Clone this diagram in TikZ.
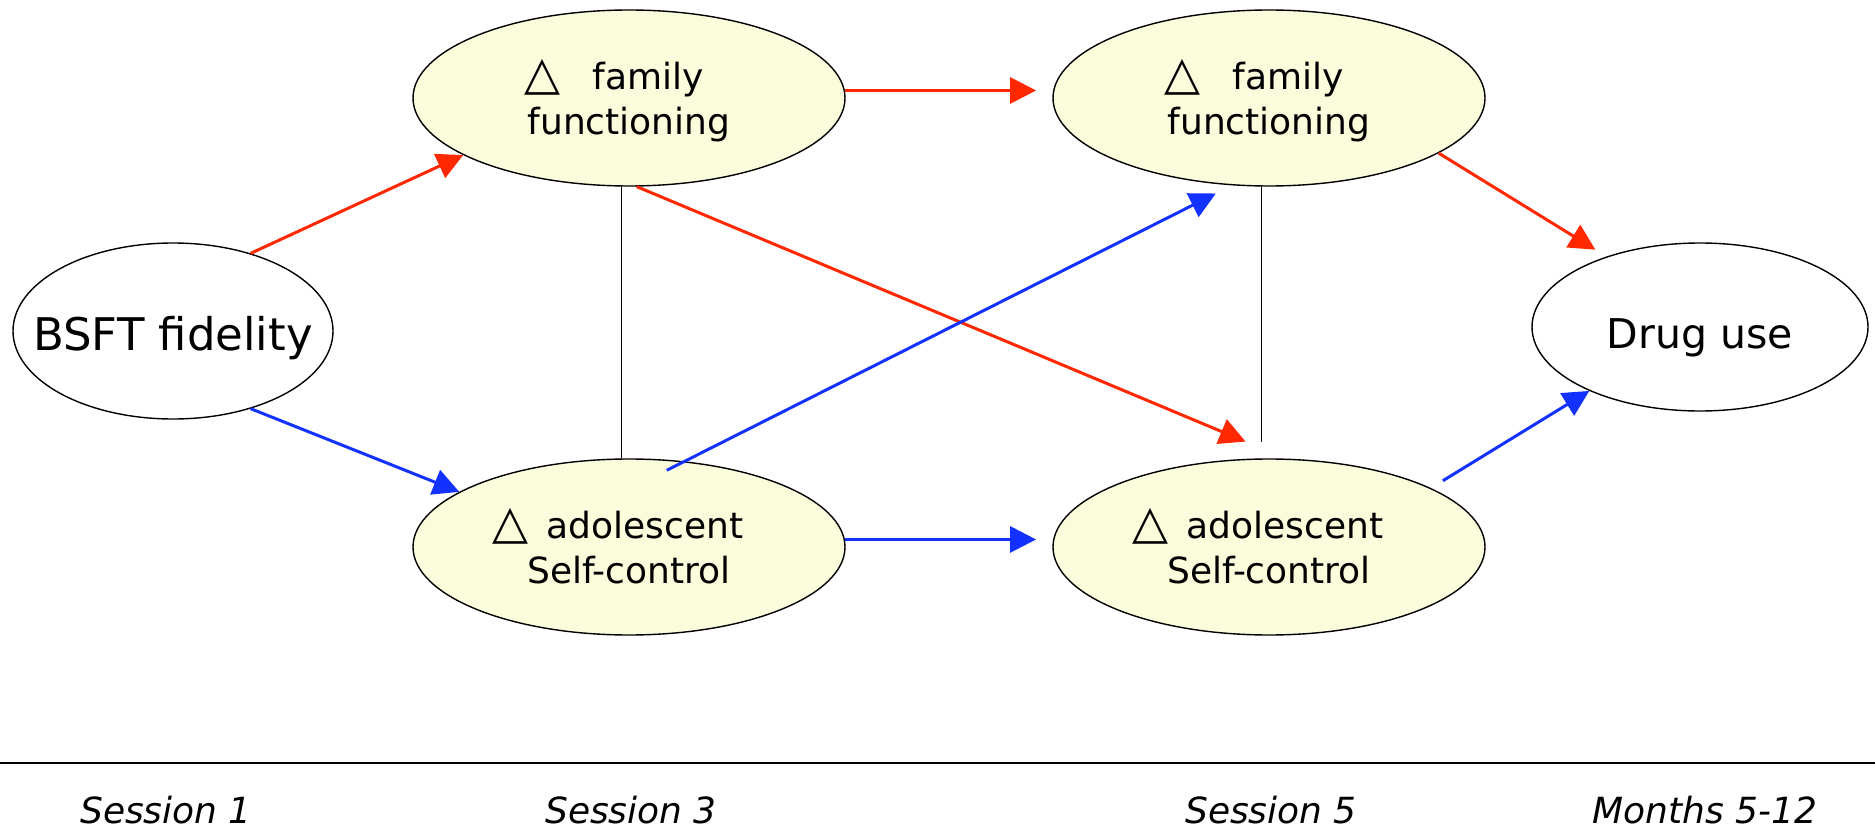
\documentclass[tikz,border=0pt]{standalone}
\usepackage{fontspec}
\setmainfont{DejaVu Sans}
\usetikzlibrary{shapes.geometric,arrows.meta}
\definecolor{arrred}{RGB}{255,40,0}
\definecolor{arrblue}{RGB}{20,50,255}
\definecolor{ovalfill}{RGB}{250,252,220}
\newcommand{\chg}{\smash{\scalebox{1.3}{△}}}

\begin{document}
\begin{tikzpicture}[x=0.5pt, y=-0.5pt,
		oval/.style={ellipse, draw, line width=0.7pt, inner sep=0pt, align=center},
		change/.style={oval, fill=ovalfill, minimum width=216pt, minimum height=88pt, text depth=0pt, font=\fontsize{18}{22.5}\selectfont},
		redarr/.style={-{Triangle[length=13pt,width=13pt]}, arrred, line width=1.5pt},
		bluearr/.style={-{Triangle[length=13pt,width=13pt]}, arrblue, line width=1.5pt},
		link/.style={line width=0.7pt},
		when/.style={font=\fontsize{18}{22}\selectfont\itshape}]
			\useasboundingbox (0,0) rectangle (1875,829);
			% outcome and predictor
			\node[oval, inner xsep=-16pt, minimum width=160pt, minimum height=88pt, font=\fontsize{22.5}{27}\selectfont] (bsft) at (173,331) {\raisebox{-9.5pt}[0pt][0pt]{BSFT fidelity}};
			\node[oval, minimum width=168pt, minimum height=84pt, font=\fontsize{20.5}{25}\selectfont] (drug) at (1700,327) {\raisebox{-10.5pt}[0pt][0pt]{Drug use}};
			% mediators
			\node[change] (ff1) at (629,98) {\chg\hspace{0.9em}family\kern15pt\\functioning};
			\node[change] (sc1) at (629,547) {\chg\hspace{0.5em}adolescent\kern11pt\\Self-control};
			\node[change] (ff2) at (1269,98) {\chg\hspace{0.9em}family\kern15pt\\functioning};
			\node[change] (sc2) at (1269,547) {\chg\hspace{0.5em}adolescent\kern11pt\\Self-control};
			% correlations
			\draw[link] (ff1.265) -- (sc1.95);
			\draw[link, shorten >=8pt] (ff2.265) -- (sc2.95);
			% red paths
			\draw[redarr] (bsft.45) -- (ff1.199);
			\draw[redarr, shorten >=8.5pt] (ff1.2) -- (ff2.178);
			\draw[redarr, shorten >=22pt] (ff1.275) -- (sc2.79);
			\draw[redarr, shorten >=6.5pt] (ff2.342) -- (drug.143);
			% blue paths
			\draw[bluearr] (bsft.315) -- (sc1.162);
			\draw[bluearr, shorten >=8.5pt] (sc1.2) -- (sc2.178);
			\draw[bluearr, shorten <=-10pt, shorten >=9pt] (sc1.57) -- (ff2.247);
			\draw[bluearr, shorten <=7pt] (sc2.20) -- (drug.210);
			% time line
			\draw[line width=0.8pt] (0,763) -- (1875,763);
			\node[when] (s1) at (166,810) {Session 1};
			\node[when] (s3) at (631,810) {Session 3};
			\node[when] (s5) at (1271,810) {Session 5};
			\node[when] (m512) at (1705,810) {Months 5-12};
		\end{tikzpicture}
\end{document}
